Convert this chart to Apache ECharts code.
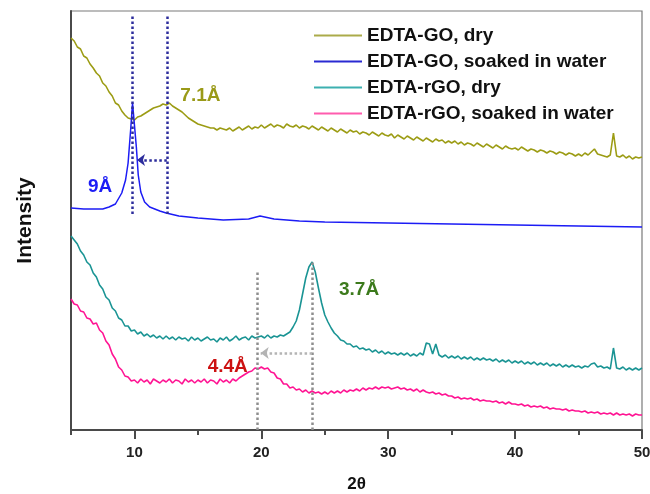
<!DOCTYPE html>
<html>
<head>
<meta charset="utf-8">
<script src="https://cdn.jsdelivr.net/npm/echarts@6/dist/echarts.min.js"></script>
<style>
  html, body { margin: 0; padding: 0; background: #fff; }
  #myChart { width: 650px; height: 494px; }
</style>
</head>
<body>
<div id="myChart"></div>
<script>
let myChart = echarts.init(document.getElementById('myChart'));

const seriesNames = [
  'EDTA-GO, dry',
  'EDTA-GO, soaked in water',
  'EDTA-rGO, dry',
  'EDTA-rGO, soaked in water',
];

// 2theta scan, 0.25 deg step
const twoTheta = Array.from({ length: 181 }, (_, i) => 5 + i * 0.25);

// EDTA-GO, dry
const goDry = [
  392, 389, 383, 381, 374, 372, 366, 362, 357, 354, 347, 344, 338, 334, 327, 325, 319, 315, 312, 311,
  310, 313, 314, 316, 318, 320, 322, 323, 324, 326, 325, 327, 324, 322, 320, 318, 315, 312, 310, 308,
  306, 305, 304, 303, 302, 302, 300, 302, 301, 300, 302, 299, 301, 303, 300, 302, 304, 301, 303, 302,
  305, 302, 304, 306, 303, 305, 304, 302, 306, 304, 303, 305, 302, 304, 303, 301, 304, 302, 300, 303,
  301, 299, 302, 300, 298, 301, 299, 297, 300, 298, 299, 296, 298, 297, 295, 298, 296, 294, 297, 295,
  294, 296, 292, 295, 293, 291, 294, 292, 290, 293, 291, 289, 292, 290, 288, 291, 289, 290, 287, 289,
  287, 289, 286, 288, 285, 287, 286, 284, 287, 285, 283, 286, 284, 282, 285, 283, 281, 284, 282, 281,
  282, 280, 283, 281, 279, 281, 280, 278, 280, 279, 277, 279, 278, 276, 278, 277, 275, 277, 276, 274,
  276, 274, 277, 275, 278, 281, 276, 275, 274, 273, 275, 297, 274, 273, 275, 272, 274, 271, 273, 272,
  273,
];

// EDTA-GO, soaked in water
const goWetX = [5, 6, 7, 7.5, 8, 8.5, 9, 9.3, 9.5, 9.7, 9.85, 10, 10.15, 10.3, 10.5, 10.8, 11.2, 12, 12.5,
  13.5, 15, 17, 19, 19.9, 21, 23, 25, 30, 35, 40, 45, 50];
const goWetY = [222, 221, 221, 221, 223, 226, 237, 250, 267, 300, 327, 305, 283, 255, 238, 228, 223, 219, 217,
  214, 212, 210, 211, 214, 211, 209, 208, 207, 206, 205, 204, 203];

// EDTA-rGO, dry
const rgoDry = [
  194, 190, 186, 179, 175, 168, 165, 157, 153, 145, 141, 133, 130, 122, 119, 112, 110, 104, 104, 99,
  100, 96, 98, 94, 96, 93, 95, 92, 94, 91, 94, 91, 93, 90, 93, 91, 92, 89, 93, 90,
  92, 89, 91, 93, 90, 91, 88, 92, 90, 93, 89, 91, 94, 90, 92, 93, 90, 94, 92, 93,
  94, 92, 95, 92, 94, 93, 95, 94, 96, 98, 103, 109, 120, 136, 152, 163, 168, 158, 142, 127,
  115, 108, 102, 97, 94, 90, 89, 86, 86, 83, 84, 81, 82, 80, 81, 78, 80, 77, 79, 76,
  78, 76, 77, 75, 77, 75, 77, 74, 76, 74, 77, 75, 87, 86, 76, 86, 75, 73, 75, 72,
  74, 72, 74, 71, 73, 71, 73, 70, 72, 70, 72, 70, 71, 69, 71, 68, 70, 68, 70, 67,
  69, 67, 69, 66, 68, 66, 68, 65, 67, 65, 67, 64, 66, 64, 66, 63, 65, 63, 65, 63,
  64, 62, 64, 63, 66, 67, 63, 64, 62, 63, 61, 82, 62, 61, 63, 60, 62, 60, 62, 60,
  62,
];

// EDTA-rGO, soaked in water
const rgoWet = [
  131, 126, 125, 119, 118, 112, 111, 106, 107, 100, 97, 89, 85, 76, 71, 63, 60, 54, 53, 49,
  50, 47, 51, 48, 50, 46, 51, 49, 47, 50, 48, 51, 47, 50, 49, 46, 51, 48, 50, 47,
  50, 48, 51, 47, 50, 49, 46, 51, 48, 50, 47, 51, 49, 52, 54, 56, 58, 59, 62, 61,
  63, 61, 62, 58, 57, 52, 51, 46, 46, 42, 43, 40, 41, 38, 40, 37, 39, 37, 38, 36,
  38, 36, 39, 37, 39, 37, 40, 38, 40, 39, 41, 39, 42, 40, 42, 41, 43, 41, 43, 42,
  43, 41, 42, 43, 41, 42, 40, 41, 39, 41, 38, 40, 38, 37, 38, 36, 37, 35, 36, 34,
  34, 32, 33, 31, 32, 31, 32, 30, 31, 29, 30, 29, 29, 28, 29, 27, 28, 26, 28, 26,
  26, 25, 26, 24, 25, 23, 24, 23, 24, 22, 23, 21, 22, 21, 21, 20, 21, 19, 20, 19,
  19, 18, 19, 17, 18, 17, 18, 16, 17, 16, 17, 15, 17, 15, 16, 15, 16, 14, 16, 15,
  15,
];

const lineColors = ['#9c9c14', '#1c1cf5', '#1a9494', '#ff1493'];
const legendColors = ['#abab4a', '#2a2ad2', '#3cb0b0', '#ff5cae'];

const pair = (xs, ys) => ys.map((v, i) => [xs[i], v]);

const labelFont = {
  fontFamily: 'Liberation Sans, Arial, sans-serif',
  fontWeight: 'bold',
  fontSize: 19,
};

function note(text, x, y, color) {
  return {
    coord: [x, y],
    symbol: 'circle',
    symbolSize: 0,
    label: Object.assign({ show: true, position: 'inside', formatter: text, color: color }, labelFont),
  };
}

const blueDots = { color: '#2c2c9c', width: 2.5, type: [2.5, 2.5] };
const grayDots = { color: '#8e8e8e', width: 2.5, type: [2.5, 2.5] };

let myChartOption = {
  animation: false,
  backgroundColor: '#fff',
  grid: {
    left: 71,
    right: 8,
    top: 11,
    bottom: 64,
    outerBoundsMode: 'none',
    show: true,
    borderColor: '#7a7a7a',
    borderWidth: 1.2,
  },
  legend: {
    left: 309,
    top: 21,
    orient: 'vertical',
    icon: 'rect',
    itemWidth: 48,
    itemHeight: 2,
    itemGap: 7,
    textStyle: {
      fontFamily: 'Liberation Sans, Arial, sans-serif',
      fontWeight: 'bold',
      fontSize: 19,
      lineHeight: 18,
      color: '#111',
    },
    data: seriesNames.map((n, i) => ({ name: n, itemStyle: { color: legendColors[i] } })),
  },
  xAxis: [
    {
      type: 'value',
      min: 5,
      max: 50,
      interval: 5,
      name: '2θ',
      nameLocation: 'middle',
      nameGap: 46,
      nameTextStyle: { fontFamily: 'Liberation Sans, Arial, sans-serif', fontWeight: 'bold', fontSize: 17, color: '#111' },
      axisLine: { lineStyle: { color: '#4a4a4a', width: 2 } },
      axisTick: { show: true, length: 9, customValues: [10, 20, 30, 40, 50], lineStyle: { color: '#4a4a4a', width: 2 } },
      axisLabel: {
        customValues: [10, 20, 30, 40, 50],
        margin: 15,
        fontFamily: 'Liberation Sans, Arial, sans-serif',
        fontWeight: 'bold',
        fontSize: 15,
        color: '#222',
      },
      splitLine: { show: false },
    },
    {
      type: 'value',
      min: 5,
      max: 50,
      interval: 5,
      position: 'bottom',
      axisLine: { show: false },
      axisTick: { show: true, length: 5, customValues: [5, 15, 25, 35, 45], lineStyle: { color: '#4a4a4a', width: 2 } },
      axisLabel: { show: false },
      splitLine: { show: false },
    },
  ],
  yAxis: {
    type: 'value',
    min: 0,
    max: 419,
    name: 'Intensity',
    nameLocation: 'middle',
    nameGap: 35,
    nameRotate: 90,
    nameTextStyle: { fontFamily: 'Liberation Sans, Arial, sans-serif', fontWeight: 'bold', fontSize: 21, color: '#111' },
    axisLine: { show: true, lineStyle: { color: '#4a4a4a', width: 2 } },
    axisTick: { show: false },
    axisLabel: { show: false },
    splitLine: { show: false },
  },
  series: [
    {
      name: seriesNames[0],
      type: 'line',
      showSymbol: false,
      data: pair(twoTheta, goDry),
      lineStyle: { color: lineColors[0], width: 1.6 },
      itemStyle: { color: lineColors[0] },
      z: 3,
      markPoint: { silent: true, data: [note('7.1Å', 15.2, 334, '#9a9a18')] },
    },
    {
      name: seriesNames[1],
      type: 'line',
      showSymbol: false,
      data: pair(goWetX, goWetY),
      lineStyle: { color: lineColors[1], width: 1.5 },
      itemStyle: { color: lineColors[1] },
      z: 3,
      markPoint: { silent: true, data: [note('9Å', 7.3, 243, '#1c1cf5')] },
      markLine: {
        silent: true,
        symbol: ['none', 'none'],
        symbolSize: [9, 8],
        label: { show: false },
        lineStyle: blueDots,
        data: [
          [{ coord: [9.85, 216] }, { coord: [9.85, 415] }],
          [{ coord: [12.55, 216] }, { coord: [12.55, 415] }],
          [{ coord: [12.55, 270] }, { coord: [10.2, 270], symbol: 'arrow' }],
        ],
      },
    },
    {
      name: seriesNames[2],
      type: 'line',
      showSymbol: false,
      data: pair(twoTheta, rgoDry),
      lineStyle: { color: lineColors[2], width: 1.6 },
      itemStyle: { color: lineColors[2] },
      z: 3,
      markPoint: { silent: true, data: [note('3.7Å', 27.7, 140, '#3c7a1c')] },
    },
    {
      name: seriesNames[3],
      type: 'line',
      showSymbol: false,
      data: pair(twoTheta, rgoWet),
      lineStyle: { color: lineColors[3], width: 1.6 },
      itemStyle: { color: lineColors[3] },
      z: 3,
      markPoint: { silent: true, data: [note('4.4Å', 17.35, 63, '#cc1111')] },
      markLine: {
        silent: true,
        symbol: ['none', 'none'],
        symbolSize: [9, 8],
        label: { show: false },
        lineStyle: grayDots,
        data: [
          [{ coord: [19.7, 0] }, { coord: [19.7, 160] }],
          [{ coord: [24.0, 0] }, { coord: [24.0, 168] }],
          [
            { coord: [24.0, 77], lineStyle: { color: '#b4b4b4' } },
            { coord: [19.95, 77], symbol: 'arrow', lineStyle: { color: '#b4b4b4' } },
          ],
        ],
      },
    },
  ],
};

myChart.setOption(myChartOption);
</script>
</body>
</html>
